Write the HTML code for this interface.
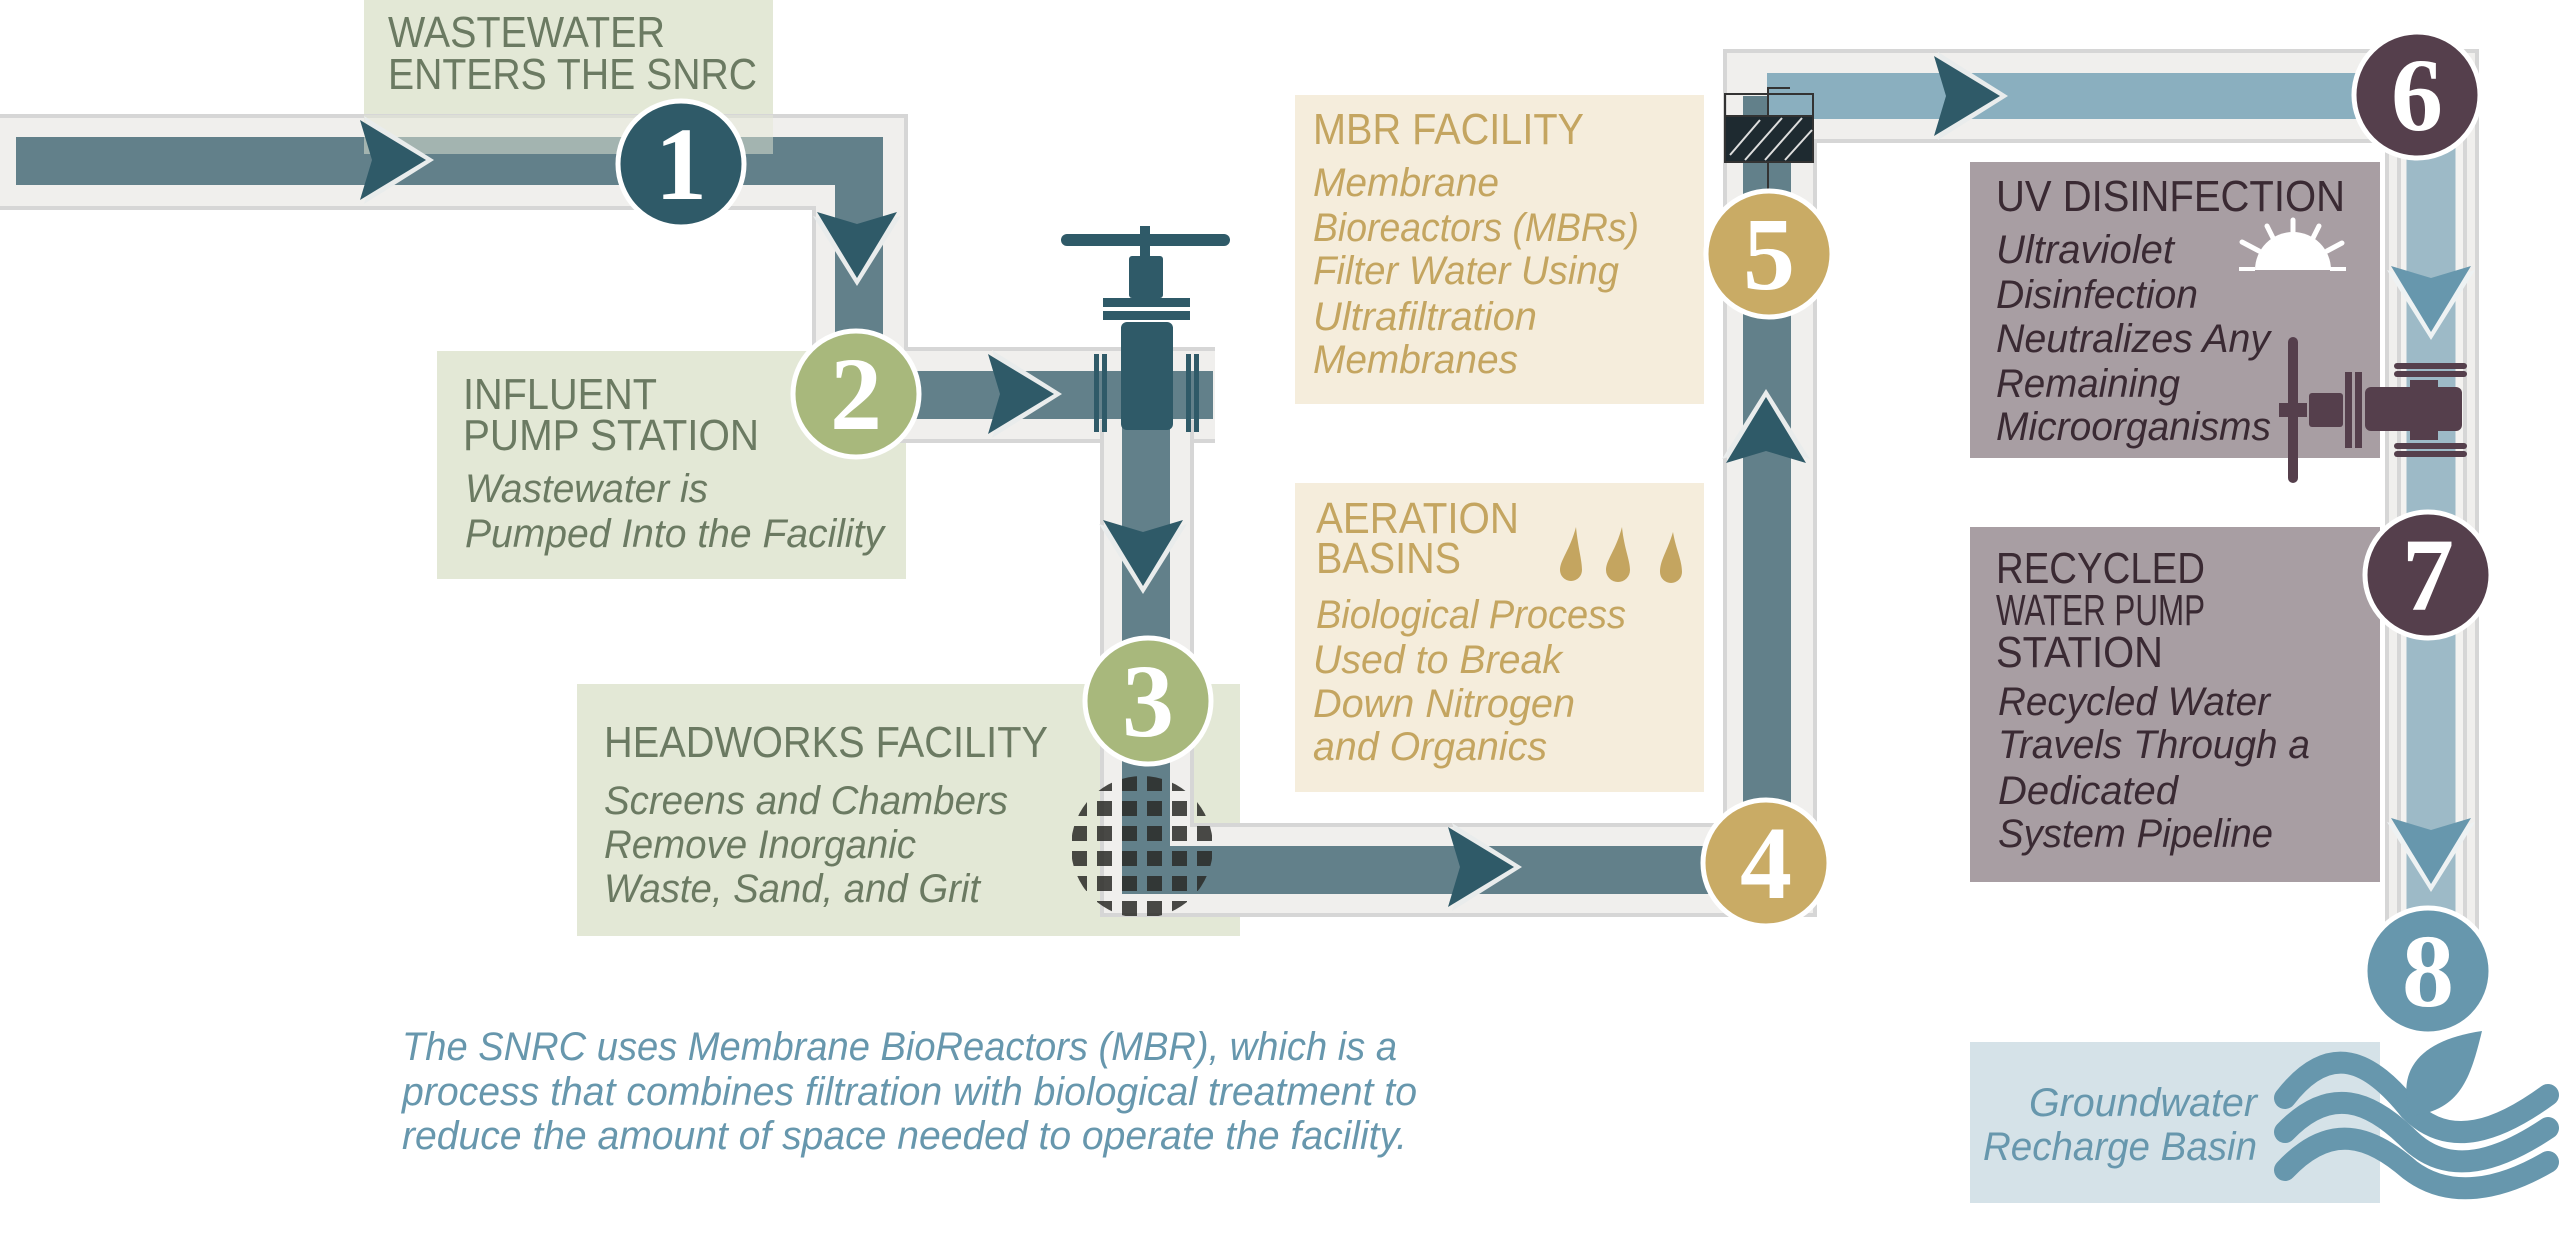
<!DOCTYPE html>
<html><head><meta charset="utf-8"><style>
html,body{margin:0;padding:0;background:#fff;}
svg{display:block;}
text{font-family:"Liberation Sans",sans-serif;}
.t{font-size:44px;}
.i{font-size:40px;font-style:italic;}
.n{font-family:"Liberation Serif",serif;font-weight:bold;font-size:104px;fill:#fff;}
</style></head><body>
<svg width="2560" height="1241" viewBox="0 0 2560 1241" xmlns="http://www.w3.org/2000/svg">
<defs>
<clipPath id="sc"><circle cx="1142" cy="847" r="71"/></clipPath>
<g id="ar"><polygon points="-36,-44 34,0 -36,44 -22,0" fill="#e9ecec"/><polygon points="-40,-40 26,0 -40,40 -28,0" fill="#2f5a68"/></g>
<g id="arl"><polygon points="-36,-44 34,0 -36,44 -22,0" fill="#eef2f3"/><polygon points="-40,-40 26,0 -40,40 -28,0" fill="#6797ad"/></g>
</defs>

<rect x="364" y="0" width="409" height="154" fill="#e3e8d6"/>
<rect x="437" y="351" width="469" height="228" fill="#e3e8d6"/>
<rect x="577" y="684" width="663" height="252" fill="#e3e8d6"/>
<rect x="1295" y="95" width="409" height="309" fill="#f5eddc"/>
<rect x="1295" y="483" width="409" height="309" fill="#f5eddc"/>
<rect x="1970" y="162" width="410" height="296" fill="#a89ea3"/>
<rect x="1970" y="527" width="410" height="355" fill="#a89ea3"/>
<rect x="1970" y="1042" width="410" height="161" fill="#d5e2e8"/>

<g fill="none" stroke-linejoin="miter">
<polyline points="0,162 860,162 860,395 1215,395" stroke="#d6d6d6" stroke-width="96"/>
<polyline points="0,162 860,162 860,395 1215,395" stroke="#f3f2f0" stroke-width="88" opacity="0.9"/>
<polyline points="1147,420 1147,870 1770,870 1770,96 2432,96 2432,980" stroke="#d6d6d6" stroke-width="94"/>
<polyline points="1147,420 1147,870 1770,870 1770,96 2432,96 2432,980" stroke="#f3f2f0" stroke-width="86" opacity="0.9"/>
<polyline points="2432,130 2432,980" stroke="#d6d6d6" stroke-width="70"/>
<polyline points="2432,130 2432,980" stroke="#f3f2f0" stroke-width="62"/>
<polyline points="16,161 859,161 859,395 1213,395" stroke="#62808a" stroke-width="48"/>
<polyline points="1146,420 1146,870 1767,870 1767,96" stroke="#62808a" stroke-width="48"/>
<polyline points="1767,96 2432,96" stroke="#8aafbf" stroke-width="46"/>
<polyline points="2431,96 2431,980" stroke="#9dbac7" stroke-width="49"/>
</g>
<rect x="364" y="115" width="409" height="39" fill="#e3e8d6" opacity="0.5"/>

<use href="#ar" transform="translate(400,160)"/>
<use href="#ar" transform="translate(857,252) rotate(90)"/>
<use href="#ar" transform="translate(1028,394)"/>
<use href="#ar" transform="translate(1143,560) rotate(90)"/>
<use href="#ar" transform="translate(1488,867)"/>
<use href="#ar" transform="translate(1766,423) rotate(-90)"/>
<use href="#ar" transform="translate(1974,96)"/>
<use href="#arl" transform="translate(2431,306) rotate(90)"/>
<use href="#arl" transform="translate(2431,858) rotate(90)"/>

<g fill="#2f5a68">
<rect x="1061" y="234" width="169" height="12" rx="6"/>
<rect x="1140" y="226" width="10" height="30"/>
<rect x="1129" y="256" width="34" height="42" rx="3"/>
<rect x="1103" y="298" width="87" height="9"/>
<rect x="1103" y="311" width="87" height="9"/>
<rect x="1121" y="322" width="52" height="108" rx="6"/>
<rect x="1094" y="354" width="5" height="78"/><rect x="1102" y="354" width="5" height="78"/>
<rect x="1186" y="354" width="5" height="78"/><rect x="1194" y="354" width="5" height="78"/>
</g>

<g clip-path="url(#sc)" fill="#2b2b27" opacity="0.85">
<rect x="1072" y="776" width="15" height="15"/><rect x="1097" y="776" width="15" height="15"/><rect x="1122" y="776" width="15" height="15"/><rect x="1147" y="776" width="15" height="15"/><rect x="1172" y="776" width="15" height="15"/><rect x="1197" y="776" width="15" height="15"/>
<rect x="1072" y="801" width="15" height="15"/><rect x="1097" y="801" width="15" height="15"/><rect x="1122" y="801" width="15" height="15"/><rect x="1147" y="801" width="15" height="15"/><rect x="1172" y="801" width="15" height="15"/><rect x="1197" y="801" width="15" height="15"/>
<rect x="1072" y="826" width="15" height="15"/><rect x="1097" y="826" width="15" height="15"/><rect x="1122" y="826" width="15" height="15"/><rect x="1147" y="826" width="15" height="15"/><rect x="1172" y="826" width="15" height="15"/><rect x="1197" y="826" width="15" height="15"/>
<rect x="1072" y="851" width="15" height="15"/><rect x="1097" y="851" width="15" height="15"/><rect x="1122" y="851" width="15" height="15"/><rect x="1147" y="851" width="15" height="15"/><rect x="1172" y="851" width="15" height="15"/><rect x="1197" y="851" width="15" height="15"/>
<rect x="1072" y="876" width="15" height="15"/><rect x="1097" y="876" width="15" height="15"/><rect x="1122" y="876" width="15" height="15"/><rect x="1147" y="876" width="15" height="15"/><rect x="1172" y="876" width="15" height="15"/><rect x="1197" y="876" width="15" height="15"/>
<rect x="1072" y="901" width="15" height="15"/><rect x="1097" y="901" width="15" height="15"/><rect x="1122" y="901" width="15" height="15"/><rect x="1147" y="901" width="15" height="15"/><rect x="1172" y="901" width="15" height="15"/><rect x="1197" y="901" width="15" height="15"/>
</g>

<rect x="1725" y="116" width="88" height="46" fill="#1e2a30" stroke="#333" stroke-width="2"/>
<rect x="1725" y="94" width="88" height="68" fill="none" stroke="#333" stroke-width="2"/>
<g stroke="#ddd" stroke-width="2"><line x1="1730" y1="155" x2="1760" y2="120"/><line x1="1745" y1="160" x2="1782" y2="118"/><line x1="1765" y1="160" x2="1802" y2="118"/><line x1="1785" y1="160" x2="1812" y2="130"/></g>
<polyline points="1768,190 1768,162" stroke="#333" stroke-width="2" fill="none"/>
<polyline points="1768,116 1768,88 1790,88" stroke="#333" stroke-width="2" fill="none"/>

<g fill="#fff"><path d="M2255,270 a38,38 0 0 1 76,0 z"/>
<rect x="2239" y="267" width="16" height="4"/><rect x="2330" y="267" width="16" height="4"/></g>
<g stroke="#fff" stroke-width="5" stroke-linecap="round"><line x1="2293" y1="220" x2="2293" y2="232"/><line x1="2267" y1="226" x2="2273" y2="238"/><line x1="2319" y1="226" x2="2313" y2="238"/><line x1="2242" y1="242" x2="2259" y2="251"/><line x1="2342" y1="243" x2="2327" y2="251"/></g>

<g fill="#c4a560">
<path d="M1576,527 C1570,550 1560,560 1560,570 a11,11 0 0 0 22,0 C1582,560 1578,548 1576,527z"/>
<path d="M1622,527 C1616,550 1606,560 1606,570 a12,12 0 0 0 24,0 C1630,560 1624,548 1622,527z"/>
<path d="M1673,532 C1667,552 1660,560 1660,572 a11,11 0 0 0 22,0 C1682,560 1676,550 1673,532z"/>
</g>

<g fill="#553f4c">
<rect x="2288" y="337" width="10" height="146" rx="5"/>
<rect x="2279" y="403" width="28" height="14"/>
<rect x="2309" y="393" width="34" height="34" rx="3"/>
<rect x="2345" y="372" width="7" height="76"/><rect x="2355" y="372" width="7" height="76"/>
<rect x="2365" y="387" width="97" height="44" rx="6"/>
<rect x="2410" y="380" width="28" height="60"/>
<rect x="2394" y="363" width="73" height="6" rx="3"/><rect x="2394" y="371" width="73" height="6" rx="3"/>
<rect x="2394" y="443" width="73" height="6" rx="3"/><rect x="2394" y="451" width="73" height="6" rx="3"/>
</g>

<g fill="none" stroke="#6797ad" stroke-width="22" stroke-linecap="round">
<path d="M2285,1098 C2330,1040 2370,1060 2410,1110 C2450,1150 2500,1130 2548,1095"/>
<path d="M2285,1132 C2330,1085 2370,1100 2410,1140 C2450,1178 2500,1160 2548,1128"/>
<path d="M2285,1170 C2330,1122 2370,1135 2410,1170 C2450,1200 2500,1190 2548,1162"/>
</g>
<path d="M2411,1116 C2395,1070 2420,1040 2482,1031 C2470,1080 2460,1110 2411,1116z" fill="#6797ad"/>

<g stroke="#fff" stroke-width="5">
<circle cx="681" cy="164" r="63" fill="#2f5a68"/>
<circle cx="856" cy="394" r="63" fill="#a8b87c"/>
<circle cx="1148" cy="701" r="63" fill="#a8b87c"/>
<circle cx="1766" cy="863" r="63" fill="#c9ab65"/>
<circle cx="1769" cy="254" r="63" fill="#c9ab65"/>
<circle cx="2417" cy="95" r="63" fill="#553f4c"/>
<circle cx="2428" cy="575" r="63" fill="#553f4c"/>
<circle cx="2428" cy="971" r="63" fill="#6797ad"/>
</g>
<text class="n" x="681" y="199" text-anchor="middle">1</text>
<text class="n" x="856" y="429" text-anchor="middle">2</text>
<text class="n" x="1148" y="736" text-anchor="middle">3</text>
<text class="n" x="1766" y="898" text-anchor="middle">4</text>
<text class="n" x="1769" y="289" text-anchor="middle">5</text>
<text class="n" x="2417" y="130" text-anchor="middle">6</text>
<text class="n" x="2428" y="610" text-anchor="middle">7</text>
<text class="n" x="2428" y="1006" text-anchor="middle">8</text>

<g fill="#6b7a62">
<text class="t" x="388" y="47" textLength="277" lengthAdjust="spacingAndGlyphs">WASTEWATER</text>
<text class="t" x="388" y="89" textLength="369" lengthAdjust="spacingAndGlyphs">ENTERS THE SNRC</text>
<text class="t" x="463" y="409" textLength="194" lengthAdjust="spacingAndGlyphs">INFLUENT</text>
<text class="t" x="463" y="450" textLength="296" lengthAdjust="spacingAndGlyphs">PUMP STATION</text>
<text class="i" x="465" y="502" textLength="243" lengthAdjust="spacingAndGlyphs">Wastewater is</text>
<text class="i" x="465" y="547" textLength="419" lengthAdjust="spacingAndGlyphs">Pumped Into the Facility</text>
<text class="t" x="604" y="757" textLength="444" lengthAdjust="spacingAndGlyphs">HEADWORKS FACILITY</text>
<text class="i" x="604" y="814" textLength="404" lengthAdjust="spacingAndGlyphs">Screens and Chambers</text>
<text class="i" x="604" y="858" textLength="312" lengthAdjust="spacingAndGlyphs">Remove Inorganic</text>
<text class="i" x="604" y="902" textLength="376" lengthAdjust="spacingAndGlyphs">Waste, Sand, and Grit</text>
</g>
<g fill="#c4a560">
<text class="t" x="1313" y="144" textLength="271" lengthAdjust="spacingAndGlyphs">MBR FACILITY</text>
<text class="i" x="1313" y="196" textLength="186" lengthAdjust="spacingAndGlyphs">Membrane</text>
<text class="i" x="1313" y="241" textLength="326" lengthAdjust="spacingAndGlyphs">Bioreactors (MBRs)</text>
<text class="i" x="1313" y="284" textLength="306" lengthAdjust="spacingAndGlyphs">Filter Water Using</text>
<text class="i" x="1313" y="330" textLength="224" lengthAdjust="spacingAndGlyphs">Ultrafiltration</text>
<text class="i" x="1313" y="373" textLength="205" lengthAdjust="spacingAndGlyphs">Membranes</text>
<text class="t" x="1316" y="533" textLength="203" lengthAdjust="spacingAndGlyphs">AERATION</text>
<text class="t" x="1316" y="573" textLength="145" lengthAdjust="spacingAndGlyphs">BASINS</text>
<text class="i" x="1316" y="628" textLength="310" lengthAdjust="spacingAndGlyphs">Biological Process</text>
<text class="i" x="1313" y="673" textLength="249" lengthAdjust="spacingAndGlyphs">Used to Break</text>
<text class="i" x="1313" y="717" textLength="262" lengthAdjust="spacingAndGlyphs">Down Nitrogen</text>
<text class="i" x="1313" y="760" textLength="234" lengthAdjust="spacingAndGlyphs">and Organics</text>
</g>
<g fill="#3a2a33">
<text class="t" x="1996" y="211" textLength="349" lengthAdjust="spacingAndGlyphs">UV DISINFECTION</text>
<text class="i" x="1996" y="263" textLength="178" lengthAdjust="spacingAndGlyphs">Ultraviolet</text>
<text class="i" x="1996" y="308" textLength="202" lengthAdjust="spacingAndGlyphs">Disinfection</text>
<text class="i" x="1996" y="352" textLength="274" lengthAdjust="spacingAndGlyphs">Neutralizes Any</text>
<text class="i" x="1996" y="397" textLength="184" lengthAdjust="spacingAndGlyphs">Remaining</text>
<text class="i" x="1996" y="440" textLength="275" lengthAdjust="spacingAndGlyphs">Microorganisms</text>
<text class="t" x="1996" y="583" textLength="209" lengthAdjust="spacingAndGlyphs">RECYCLED</text>
<text class="t" x="1996" y="625" textLength="209" lengthAdjust="spacingAndGlyphs">WATER PUMP</text>
<text class="t" x="1996" y="667" textLength="167" lengthAdjust="spacingAndGlyphs">STATION</text>
<text class="i" x="1998" y="715" textLength="272" lengthAdjust="spacingAndGlyphs">Recycled Water</text>
<text class="i" x="1998" y="758" textLength="312" lengthAdjust="spacingAndGlyphs">Travels Through a</text>
<text class="i" x="1998" y="804" textLength="180" lengthAdjust="spacingAndGlyphs">Dedicated</text>
<text class="i" x="1998" y="847" textLength="275" lengthAdjust="spacingAndGlyphs">System Pipeline</text>
</g>
<g fill="#6797ad">
<text class="i" x="2029" y="1116" textLength="228" lengthAdjust="spacingAndGlyphs">Groundwater</text>
<text class="i" x="1983" y="1160" textLength="274" lengthAdjust="spacingAndGlyphs">Recharge Basin</text>
<text class="i" x="402" y="1060" textLength="995" lengthAdjust="spacingAndGlyphs">The SNRC uses Membrane BioReactors (MBR), which is a</text>
<text class="i" x="402" y="1105" textLength="1015" lengthAdjust="spacingAndGlyphs">process that combines filtration with biological treatment to</text>
<text class="i" x="402" y="1149" textLength="1005" lengthAdjust="spacingAndGlyphs">reduce the amount of space needed to operate the facility.</text>
</g>
</svg>
</body></html>
